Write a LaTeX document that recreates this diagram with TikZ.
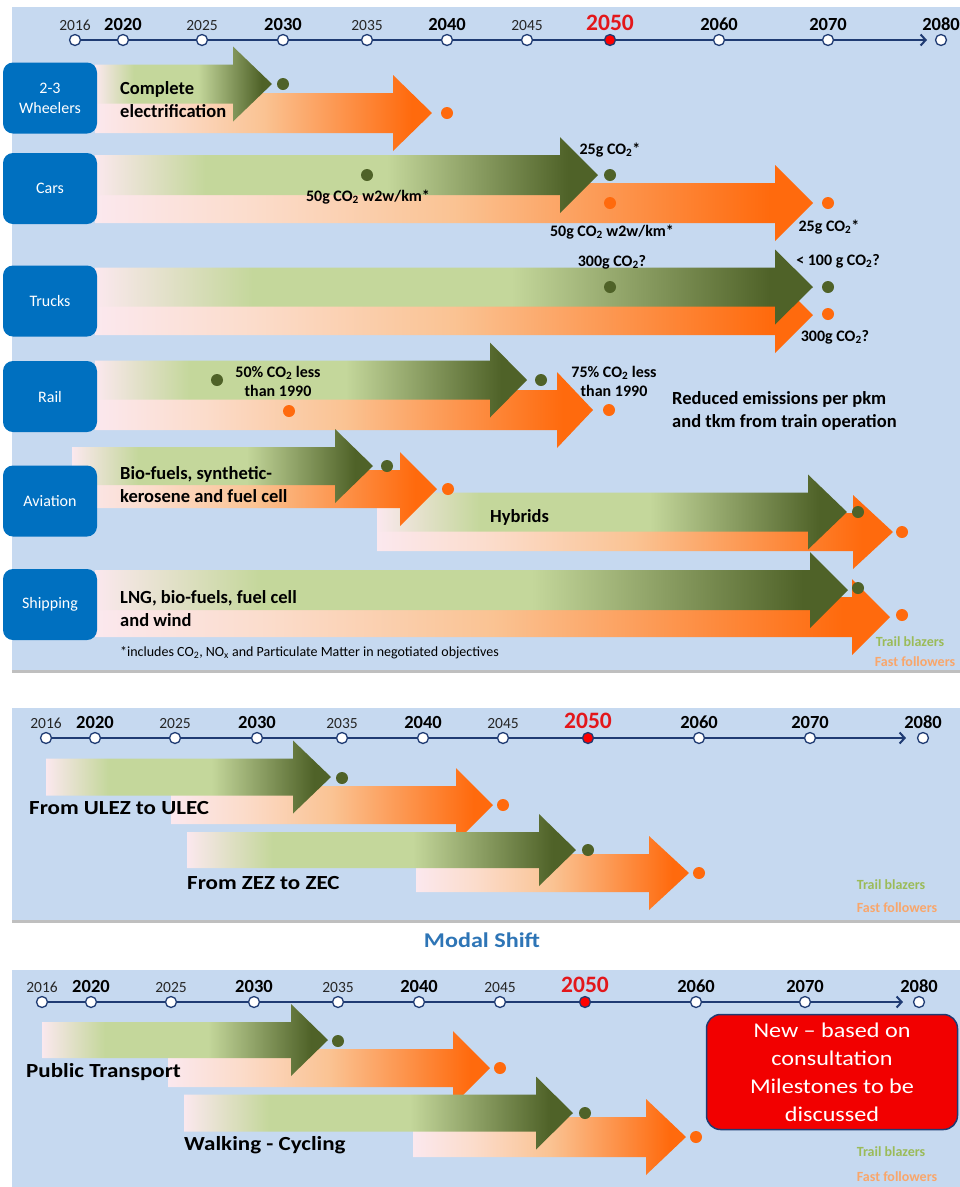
\documentclass[tikz,border=0pt]{standalone}
\usepackage{fontspec}
\setmainfont{Carlito}
\newfontfamily\widefont{Carlito}[FakeStretch=1.15, Ligatures=TeX]
\usepackage{tikz}
\usetikzlibrary{arrows.meta,positioning}

\definecolor{panelblue}{HTML}{C6D9F0}
\definecolor{boxblue}{HTML}{0070C0}
\definecolor{navy}{HTML}{1F3B73}
\definecolor{gdark}{HTML}{4F6228}
\definecolor{glight}{HTML}{C4D79B}
\definecolor{barpink}{HTML}{FBE8EE}
\definecolor{opink}{HTML}{FBDCCB}
\definecolor{opeach}{HTML}{FAC393}
\definecolor{odark}{HTML}{FF6A0D}
\definecolor{trailgreen}{HTML}{9BBB59}
\definecolor{fastorange}{HTML}{F9A66B}
\definecolor{notered}{HTML}{F20000}
\definecolor{yearred}{HTML}{E3171B}
\definecolor{modalblue}{HTML}{2E75B6}

\pgfdeclarehorizontalshading{greenbar}{100bp}{color(0bp)=(barpink); color(25bp)=(barpink); color(36bp)=(glight); color(54bp)=(glight); color(72bp)=(gdark); color(100bp)=(gdark)}
\pgfdeclarehorizontalshading{orangebar}{100bp}{color(0bp)=(barpink); color(25bp)=(barpink); color(36bp)=(opink); color(50bp)=(opeach); color(72bp)=(odark); color(100bp)=(odark)}

% block arrow: shading, left x, centre y, head base x, tip x, half body
\newcommand{\bararrow}[6]{%
  \shade[shading=#1] (#2,#3-#6) -- (#4,#3-#6) -- (#4,#3-#6-18) -- (#5,#3)
    -- (#4,#3+#6+18) -- (#4,#3+#6) -- (#2,#3+#6) -- cycle;}

% time axis: prefix, y, start x, arrow end x, year/x/kind list
\newcommand{\yearaxis}[5]{%
  \coordinate (#1-start) at (#3,#2);
  \coordinate (#1-end) at (#4,#2);
  \draw[axisline] (#1-start) -- (#1-end);
  \foreach \yr/\xx/\kind in {#5} {
    \node[\kind dot] (#1-\yr) at (\xx,#2) {};
    \node[\kind year, anchor=base] (#1-\yr-lbl) at (\xx,#2-10) {\yr};
  }}

\begin{document}
\begin{tikzpicture}[x=1pt,y=-1pt,
  axisline/.style={draw=navy, line width=2pt, -{Straight Barb[length=5pt,width=11pt]}},
  minordot/.style={circle, draw=navy, fill=white, line width=1.3pt, minimum size=11pt, inner sep=0pt},
  majordot/.style={minordot},
  reddot/.style={minordot, fill=red},
  minoryear/.style={font=\fontsize{15.5}{16}\selectfont, text=black!85, inner sep=0pt},
  majoryear/.style={font=\bfseries\fontsize{18.5}{19}\selectfont, inner sep=0pt},
  redyear/.style={font=\bfseries\fontsize{23.5}{24}\selectfont, text=yearred, inner sep=0pt},
  catbox/.style={rounded corners=10pt, fill=boxblue, text=white, minimum width=94pt, minimum height=71pt, align=center, inner sep=0pt, font=\fontsize{16}{20}\selectfont},
  gdot/.style={circle, fill=gdark, inner sep=0pt, minimum size=12pt},
  odot/.style={circle, fill=odark, inner sep=0pt, minimum size=12pt},
  bartext/.style={font=\bfseries\fontsize{18.5}{23}\selectfont, align=left, inner sep=0pt, anchor=west},
  co2/.style={font=\bfseries\fontsize{16}{19}\selectfont, align=center, inner sep=0pt},
  lowtext/.style={font=\widefont\bfseries\fontsize{20}{22}\selectfont, inner sep=0pt, anchor=west},
  trail/.style={text=trailgreen, font=\bfseries\fontsize{14}{15}\selectfont, inner sep=0pt},
  fast/.style={text=fastorange, font=\bfseries\fontsize{14}{15}\selectfont, inner sep=0pt},
  redbox/.style={rounded corners=14pt, fill=notered, draw=navy, line width=1.5pt, text=white, align=center, minimum width=251pt, minimum height=115pt, font=\widefont\fontsize{21}{28}\selectfont}]

\useasboundingbox (0,0) rectangle (960,1187);

% Panels
\fill[panelblue] (12,7) rectangle (960,670);
\fill[black!25] (12,670) rectangle (960,673);
\fill[panelblue] (12,708) rectangle (960,920);
\fill[black!25] (12,920) rectangle (960,923);
\fill[panelblue] (12,970) rectangle (960,1187);

% Vehicle technologies
\yearaxis{ta}{40}{75}{927}{2016/75/minor, 2020/123/major, 2025/202/minor, 2030/283/major, 2035/367/minor, 2040/447/major, 2045/527/minor, 2050/610/red, 2060/719/major, 2070/828/major, 2080/941/major}

% 2-3 wheelers
\bararrow{orangebar}{95}{113}{393}{432}{20}
\bararrow{greenbar}{95}{84}{233}{272}{19.5}
\node[gdot] (w-g) at (283,84) {};
\node[odot] (w-o) at (447,113) {};
\node[bartext] (w-txt) at (120,100) {Complete\\electrification};
\node[catbox] (wheelers) at (50,98) {2-3\\Wheelers};

% Cars
\bararrow{orangebar}{95}{203}{775}{813}{20}
\bararrow{greenbar}{95}{175}{560}{598}{20}
\node[gdot] (c-g1) at (367,175) {};
\node[gdot] (c-g2) at (610,175) {};
\node[odot] (c-o1) at (610,203) {};
\node[odot] (c-o2) at (828,203) {};
\node[co2] (c-l1) at (368,197) {50g CO\textsubscript{2} w2w/km*};
\node[co2] (c-l2) at (610,150) {25g CO\textsubscript{2}*};
\node[co2] (c-l3) at (612,232) {50g CO\textsubscript{2} w2w/km*};
\node[co2] (c-l4) at (829,227) {25g CO\textsubscript{2}*};
\node[catbox] (cars) at (50,188.5) {Cars};

% Trucks
\bararrow{orangebar}{95}{315}{775}{813}{20}
\bararrow{greenbar}{95}{287}{775}{813}{19.5}
\node[gdot] (t-g1) at (610,287) {};
\node[gdot] (t-g2) at (828,287) {};
\node[odot] (t-o1) at (828,314) {};
\node[co2] (t-l1) at (612,262) {300g CO\textsubscript{2}?};
\node[co2] (t-l2) at (838,261) {< 100 g CO\textsubscript{2}?};
\node[co2] (t-l3) at (835,337) {300g CO\textsubscript{2}?};
\node[catbox] (trucks) at (50,301) {Trucks};

% Rail
\bararrow{orangebar}{95}{410}{557}{593}{20}
\bararrow{greenbar}{95}{380}{490}{527}{19.5}
\node[gdot] (r-g1) at (217,380) {};
\node[gdot] (r-g2) at (541,380) {};
\node[odot] (r-o1) at (289,411) {};
\node[odot] (r-o2) at (609,410) {};
\node[co2] (r-l1) at (278,381) {50\% CO\textsubscript{2} less\\than 1990};
\node[co2] (r-l2) at (614,381) {75\% CO\textsubscript{2} less\\than 1990};
\node[bartext] (r-txt) at (672,411) {Reduced emissions per pkm\\and tkm from train operation};
\node[catbox] (rail) at (50,396.5) {Rail};

% Aviation, hybrids behind
\bararrow{orangebar}{377}{532}{853}{893}{19}
\bararrow{greenbar}{377}{512}{808}{847}{19.5}
\node[gdot] (a-g2) at (858,512) {};
\node[odot] (a-o2) at (902,532) {};
\node[bartext] (a-hyb) at (490,517) {Hybrids};
\bararrow{orangebar}{72}{489}{400}{437}{19}
\bararrow{greenbar}{72}{466}{335}{373}{19}
\node[gdot] (a-g1) at (387,466) {};
\node[odot] (a-o1) at (448,489) {};
\node[bartext] (a-txt) at (120,485) {Bio-fuels, synthetic-\\kerosene and fuel cell};
\node[catbox] (aviation) at (50,501) {Aviation};

% Shipping
\bararrow{orangebar}{95}{617}{852}{890}{20}
\bararrow{greenbar}{95}{590}{810}{848}{20}
\node[gdot] (s-g) at (858,588) {};
\node[odot] (s-o) at (902,615) {};
\node[bartext] (s-txt) at (120,609) {LNG, bio-fuels, fuel cell\\and wind};
\node[catbox] (shipping) at (50,604.5) {Shipping};

\node[anchor=west, inner sep=0pt, font=\fontsize{14}{15}\selectfont] (note) at (120,653)
  {*includes CO\textsubscript{2}, NO\textsubscript{x} and Particulate Matter in negotiated objectives};
\node[trail] (ta-trail) at (910,642) {Trail blazers};
\node[fast] (ta-fast) at (915,662) {Fast followers};

% Low emission zones
\yearaxis{tb}{738}{46}{906}{2016/46/minor, 2020/95/major, 2025/175/minor, 2030/257/major, 2035/342/minor, 2040/423/major, 2045/503/minor, 2050/588/red, 2060/699/major, 2070/810/major, 2080/923/major}
\bararrow{orangebar}{171}{805}{456}{493}{19}
\bararrow{greenbar}{46}{777}{293}{331}{18.5}
\node[gdot] (u-g) at (342,778) {};
\node[odot] (u-o) at (503,805) {};
\bararrow{orangebar}{416}{873}{649}{689}{19}
\bararrow{greenbar}{187}{850}{539}{576}{18}
\node[gdot] (z-g) at (588,850) {};
\node[odot] (z-o) at (699,873) {};
\node[lowtext] (u-txt) at (29,808) {From ULEZ to ULEC};
\node[lowtext] (z-txt) at (187,883) {From ZEZ to ZEC};
\node[trail] (tb-trail) at (891,885) {Trail blazers};
\node[fast] (tb-fast) at (897,908) {Fast followers};

\node[font=\widefont\bfseries\fontsize{21}{24}\selectfont, text=modalblue] (modal) at (482,940) {Modal Shift};

% Modal shift
\yearaxis{tc}{1002}{42}{903}{2016/42/minor, 2020/91/major, 2025/171/minor, 2030/254/major, 2035/338/minor, 2040/419/major, 2045/500/minor, 2050/585/red, 2060/696/major, 2070/805/major, 2080/919/major}
\bararrow{orangebar}{168}{1068}{453}{490}{19}
\bararrow{greenbar}{42}{1040}{291}{328}{18}
\node[gdot] (p-g) at (338,1041) {};
\node[odot] (p-o) at (500,1068) {};
\bararrow{orangebar}{413}{1137}{646}{686}{20}
\bararrow{greenbar}{184}{1113}{536}{573}{18.5}
\node[gdot] (k-g) at (585,1113) {};
\node[odot] (k-o) at (696,1137) {};
\node[lowtext] (p-txt) at (26,1072) {Public Transport};
\node[lowtext] (k-txt) at (184,1145) {Walking - Cycling};
\node[redbox] (newbox) at (832,1072) {New – based on\\consultation\\Milestones to be\\discussed};
\node[trail] (tc-trail) at (891,1152) {Trail blazers};
\node[fast] (tc-fast) at (897,1177) {Fast followers};

\end{tikzpicture}
\end{document}
